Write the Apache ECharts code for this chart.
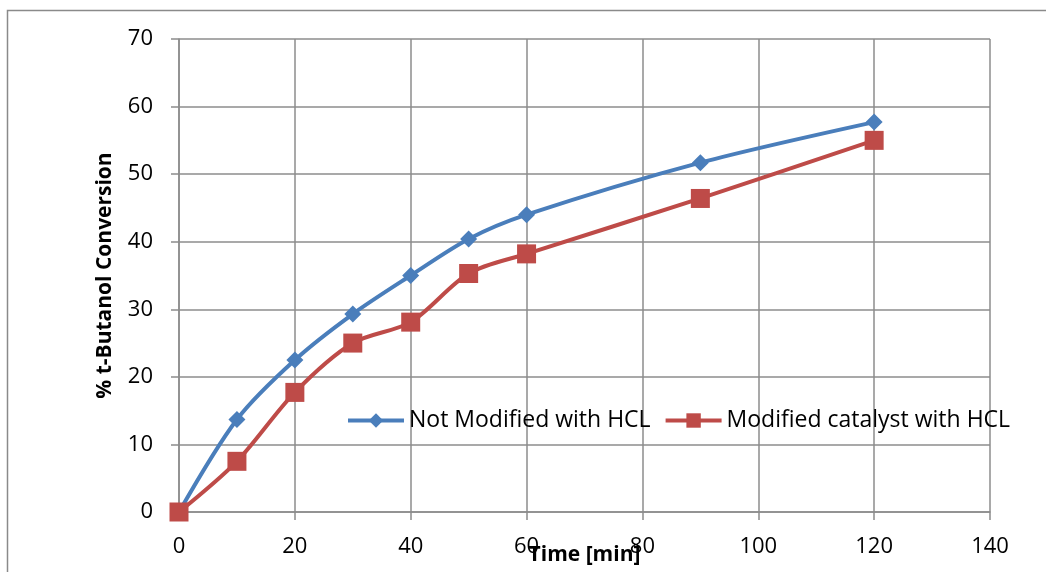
<!doctype html>
<html lang="en">
<head>
<meta charset="UTF-8">
<title>t-Butanol conversion</title>
<script src="https://cdn.jsdelivr.net/npm/echarts@6/dist/echarts.min.js"></script>
<style>
  html, body { margin: 0; padding: 0; background: #fff; }
  #main { width: 1046px; height: 572px; }
</style>
</head>
<body>
<div id="main"></div>
<script>
// time in minutes
var times = [0, 10, 20, 30, 40, 50, 60, 90, 120];
// % conversion
var notModified = [0, 13.7, 22.5, 29.3, 35.0, 40.4, 44.0, 51.7, 57.7];
var modified = [0, 7.5, 17.7, 25.0, 28.1, 35.3, 38.2, 46.4, 55.0];

function pairs(xs, ys) {
    var out = [];
    for (var i = 0; i < xs.length; i++) out.push([xs[i], ys[i]]);
    return out;
}

var fontFam = '"Open Sans", sans-serif';
var gridCol = '#8c8c8c';
var blue = '#4a7ebb', red = '#be4b48';

var myChart = echarts.init(document.getElementById('main'));
var option = {
    animation: false,
    textStyle: { fontFamily: fontFam },
    graphic: [{
        type: 'rect',
        shape: { x: 7.5, y: 10.5, width: 1100, height: 700 },
        style: { fill: 'none', stroke: '#8a8a8a', lineWidth: 1.5 },
        silent: true
    }],
    grid: { left: 179, right: 56, top: 39, bottom: 60, containLabel: false, outerBoundsMode: 'none' },
    legend: {
        left: 346,
        top: 409,
        padding: 0,
        itemWidth: 56,
        itemHeight: 18,
        itemGap: 13,
        textStyle: { fontSize: 23, color: '#000', fontFamily: fontFam },
        data: [
            { name: 'Not Modified with HCL', lineStyle: { width: 4, color: blue } },
            { name: 'Modified catalyst with HCL', lineStyle: { width: 4, color: red } }
        ]
    },
    xAxis: {
        type: 'value',
        min: 0, max: 140, interval: 20,
        name: 'Time [min]',
        nameLocation: 'middle',
        nameGap: 33,
        nameMoveOverlap: false,
        nameTextStyle: { fontSize: 21, fontWeight: 'bold', color: '#000' },
        axisLine: { lineStyle: { color: gridCol, width: 1.5 } },
        axisTick: { show: true, length: 8, lineStyle: { color: gridCol, width: 1.5 } },
        axisLabel: { fontSize: 22, color: '#000', margin: 24 },
        splitLine: { show: true, lineStyle: { color: gridCol, width: 1.5 } }
    },
    yAxis: {
        type: 'value',
        min: 0, max: 70, interval: 10,
        name: '% t-Butanol Conversion',
        nameLocation: 'middle',
        nameGap: 63,
        nameMoveOverlap: false,
        nameTextStyle: { fontSize: 21, fontWeight: 'bold', color: '#000' },
        axisLine: { show: true, lineStyle: { color: gridCol, width: 1.5 } },
        axisTick: { show: true, length: 8, lineStyle: { color: gridCol, width: 1.5 } },
        axisLabel: { fontSize: 22, color: '#000', margin: 26 },
        splitLine: { show: true, lineStyle: { color: gridCol, width: 1.5 } }
    },
    series: [
        {
            name: 'Not Modified with HCL',
            type: 'line',
            smooth: 0.3,
            data: pairs(times, notModified),
            symbol: 'diamond',
            symbolSize: 17,
            lineStyle: { color: blue, width: 4 },
            itemStyle: { color: blue },
            z: 3
        },
        {
            name: 'Modified catalyst with HCL',
            type: 'line',
            smooth: 0.3,
            data: pairs(times, modified),
            symbol: 'rect',
            symbolSize: 19,
            lineStyle: { color: red, width: 4 },
            itemStyle: { color: red },
            z: 4
        }
    ]
};
myChart.setOption(option);
</script>
</body>
</html>
